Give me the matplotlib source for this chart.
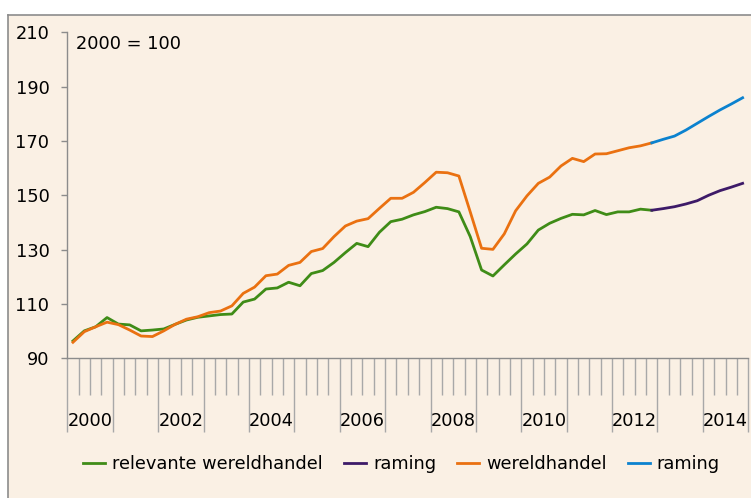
import matplotlib

matplotlib.use("Agg")
import matplotlib.pyplot as plt
from matplotlib.lines import Line2D
from matplotlib.patches import Rectangle
from matplotlib.transforms import blended_transform_factory

FS = 12.8
plt.rcParams.update({
    "font.family": ["DejaVu Sans"],
    "font.size": FS,
})

# quarterly index, 2000 = 100 (2000Q1 .. 2014Q4)
years = list(range(2000, 2015))
label_years = [2000, 2002, 2004, 2006, 2008, 2010, 2012, 2014]

relevant = [96.4, 100.1, 101.6, 105.0, 102.6, 102.3, 100.1, 100.4,
            100.8, 102.5, 104.1, 105.1, 105.6, 106.1, 106.3, 110.7,
            111.8, 115.5, 115.9, 118.0, 116.7, 121.2, 122.3, 125.3,
            128.9, 132.3, 131.1, 136.4, 140.3, 141.2, 142.8, 144.0,
            145.6, 145.1, 143.9, 134.8, 122.5, 120.3, 124.4, 128.4,
            132.1, 137.2, 139.7, 141.5, 143.0, 142.8, 144.4, 142.9,
            143.9, 143.9, 144.9, 144.5]
relevant_fc = [144.5, 145.1, 145.8, 146.8, 148.0, 150.0, 151.7, 153.0,
               154.4]
world = [95.9, 99.8, 101.6, 103.3, 102.4, 100.4, 98.2, 98.0,
         100.1, 102.5, 104.4, 105.3, 106.8, 107.4, 109.3, 113.9,
         116.2, 120.4, 121.0, 124.2, 125.3, 129.3, 130.4, 134.8,
         138.7, 140.5, 141.4, 145.2, 148.9, 148.9, 151.1, 154.7,
         158.5, 158.3, 157.1, 143.9, 130.5, 130.1, 135.8, 144.3,
         149.8, 154.4, 156.7, 160.8, 163.6, 162.4, 165.2, 165.3,
         166.4, 167.5, 168.2, 169.3]
world_fc = [169.3, 170.6, 171.8, 174.0, 176.5, 179.0, 181.4, 183.6,
            185.9]

GREEN = "#3f8c17"
PURPLE = "#3d1a68"
ORANGE = "#ea7111"
BLUE = "#0b82cf"
GREY = "#8c8c8c"
BG = "#faf0e4"

fig = plt.figure(figsize=(7.51, 4.98), dpi=100, facecolor="white")
# chart area: beige fill with grey border on top and left
fig.patches.append(Rectangle((8.3 / 751, 0), 1, 1 - 15.3 / 498,
                             transform=fig.transFigure, fc=BG, ec="none",
                             zorder=-5))
fig.add_artist(Line2D([8.3 / 751, 1], [1 - 15.3 / 498] * 2, color=GREY,
                      lw=1.2, transform=fig.transFigure))
fig.add_artist(Line2D([8.3 / 751] * 2, [0, 1 - 15.3 / 498], color=GREY,
                      lw=1.2, transform=fig.transFigure))

ax = fig.add_axes([67.3 / 751, 1 - 358.3 / 498, 681 / 751, 326 / 498])
ax.set_facecolor("none")

n = len(relevant)
x_hist = [i + 0.5 for i in range(n)]
x_fc = [n - 1 + i + 0.5 for i in range(len(relevant_fc))]

lw = 2.0
l1, = ax.plot(x_hist, relevant, color=GREEN, lw=lw,
              label="relevante wereldhandel", solid_joinstyle="round")
l2, = ax.plot(x_fc, relevant_fc, color=PURPLE, lw=lw, label="raming",
              solid_joinstyle="round")
l3, = ax.plot(x_hist, world, color=ORANGE, lw=lw, label="wereldhandel",
              solid_joinstyle="round")
l4, = ax.plot(x_fc, world_fc, color=BLUE, lw=lw, label="raming",
              solid_joinstyle="round")

nq = 4 * len(years)
ax.set_xlim(0, nq)
ax.set_ylim(90, 210)
ax.set_yticks(range(90, 211, 20))

for s in ("top", "right"):
    ax.spines[s].set_visible(False)
for s in ("left", "bottom"):
    ax.spines[s].set_color(GREY)
    ax.spines[s].set_linewidth(1.0)

ax.set_xticks(range(0, nq + 1, 4))
ax.set_xticks([q for q in range(nq + 1) if q % 4], minor=True)
ax.tick_params(axis="x", which="major", length=53, width=1.0, color="#a8a8a8",
               labelbottom=False)
ax.tick_params(axis="x", which="minor", length=26.5, width=1.0,
               color="#a8a8a8")
ax.tick_params(axis="y", length=4.3, width=1.0, color=GREY, pad=8.6,
               labelsize=FS)

tr = blended_transform_factory(ax.transData, ax.transAxes)
for yr in label_years:
    xc = (yr - years[0]) * 4 + 2
    ax.text(xc, -0.191, str(yr), transform=tr, ha="center", va="center",
            fontsize=FS)

ax.text(0.0132, 0.963, "2000 = 100", transform=ax.transAxes, ha="left",
        va="center", fontsize=FS)

fig.legend(handles=[l1, l2, l3, l4], loc="center",
           bbox_to_anchor=(401.5 / 751, 34 / 498), ncol=4, frameon=False,
           handlelength=1.24, handletextpad=0.4, columnspacing=1.18,
           fontsize=FS)

fig.savefig("out.png", dpi=100, facecolor="white")
